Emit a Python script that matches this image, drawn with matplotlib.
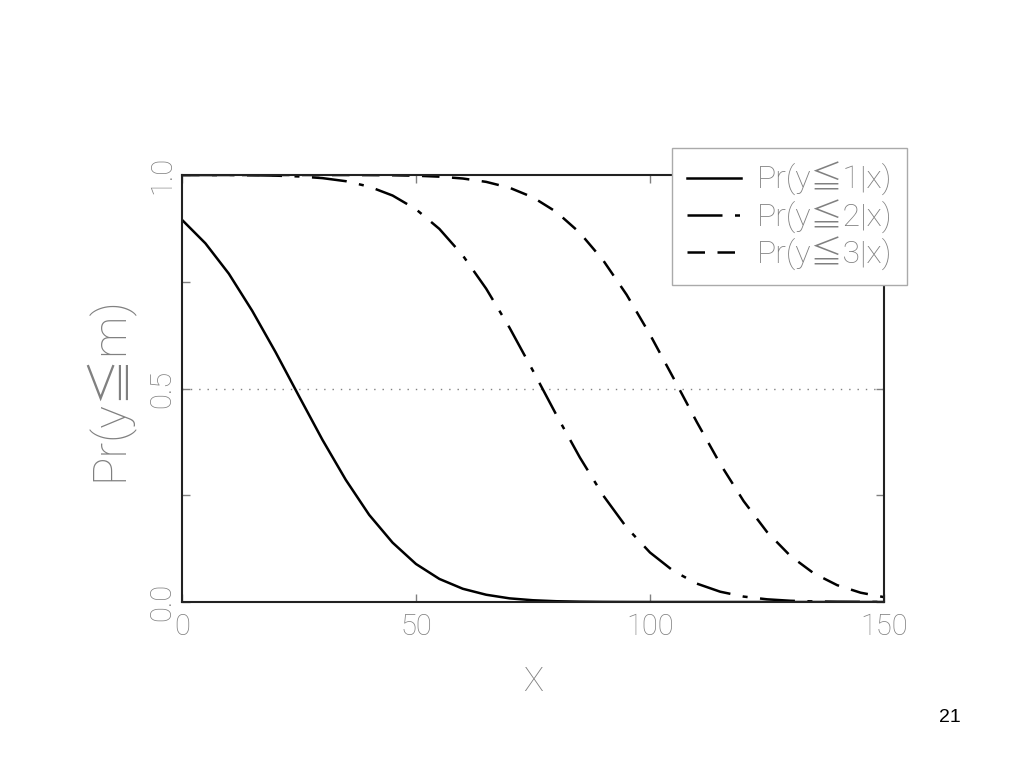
import matplotlib
matplotlib.use("Agg")
import matplotlib.pyplot as plt
from matplotlib.ticker import MultipleLocator

# ---- data ----
x_vals = [0, 5, 10, 15, 20, 25, 30, 35, 40, 45, 50, 55, 60, 65, 70, 75,
          80, 85, 90, 95, 100, 105, 110, 115, 120, 125, 130, 135, 140, 145, 150]
p_le1 = [0.895, 0.840, 0.769, 0.682, 0.585, 0.482, 0.380, 0.286, 0.204, 0.139,
         0.089, 0.054, 0.031, 0.017, 0.0085, 0.0041, 0.0018, 0.0008, 0.0003, 0.0001,
         0.0, 0.0, 0.0, 0.0, 0.0, 0.0, 0.0, 0.0, 0.0, 0.0, 0.0]
p_le2 = [1.0, 0.9999, 0.9998, 0.9994, 0.9985, 0.9966, 0.9927, 0.9855, 0.9728, 0.9519,
         0.9198, 0.8737, 0.8116, 0.7337, 0.6421, 0.5414, 0.4380, 0.3387, 0.2495, 0.1746,
         0.1159, 0.0727, 0.0431, 0.0241, 0.0127, 0.0063, 0.0029, 0.0013, 0.0005, 0.0002, 0.0001]
p_le3 = [1.0, 1.0, 1.0, 1.0, 1.0, 1.0, 0.9999, 0.9999, 0.9997, 0.9993,
         0.9983, 0.9961, 0.9918, 0.9839, 0.9701, 0.9476, 0.9134, 0.8648, 0.8001, 0.7197,
         0.6263, 0.5247, 0.4215, 0.3235, 0.2364, 0.1640, 0.1079, 0.0671, 0.0394, 0.0218, 0.0114]
series_labels = ["Pr(y≦1|x)", "Pr(y≦2|x)", "Pr(y≦3|x)"]
x_ticks = [0, 50, 100, 150]
y_ticks = [0.0, 0.5, 1.0]
y_tick_labels = ["0.0", "0.5", "1.0"]
reference_level = 0.5
page_number = "21"

FONT = ["Roboto", "Noto Sans CJK JP", "DejaVu Sans"]
GRAY = "#808080"

fig = plt.figure(figsize=(10.24, 7.68), dpi=100)
ax = fig.add_axes([182/1024, 1 - 602/768, 702/1024, 427/768])

ax.plot(x_vals, p_le1, color="black", lw=1.8, label=series_labels[0])
ax.plot(x_vals, p_le2, color="black", lw=1.8, dashes=[14, 5, 2, 5], label=series_labels[1])
ax.plot(x_vals, p_le3, color="black", lw=1.8, dashes=[7, 5], label=series_labels[2])
ax.axhline(reference_level, color=GRAY, lw=1.0, ls=(0, (1, 5)), zorder=0)

ax.set_xlim(0, 150)
ax.set_ylim(0, 1)
ax.set_xticks(x_ticks)
ax.set_xticklabels([str(t) for t in x_ticks], fontsize=21, color=GRAY,
                   family=FONT, fontweight="light")
ax.set_yticks(y_ticks)
ax.set_yticklabels(y_tick_labels, fontsize=21, color=GRAY, family=FONT,
                   fontweight="light", rotation=90, va="center")
ax.yaxis.set_minor_locator(MultipleLocator(0.25))
ax.tick_params(which="both", direction="in", top=True, right=True,
               color=GRAY, length=6, width=1)
ax.tick_params(axis="x", pad=8)
ax.tick_params(axis="y", pad=4)
for s in ax.spines.values():
    s.set_linewidth(1.5)
    s.set_color("#222222")

ax.set_xlabel("X", fontsize=24, color=GRAY, family=FONT, fontweight="light")
ax.xaxis.set_label_coords(0.5, -0.15)
ax.set_ylabel("Pr(y≦m)", fontsize=34, color=GRAY, family=FONT, fontweight="light")
ax.yaxis.set_label_coords(-0.07, 0.5)

leg = ax.legend(loc="upper right", bbox_to_anchor=(907/1024, 1 - 148/768),
                bbox_transform=fig.transFigure, borderaxespad=0,
                fancybox=False, framealpha=1, edgecolor="#aaaaaa",
                prop={"family": FONT, "size": 23, "weight": "light"},
                handlelength=1.7, handletextpad=0.5, labelspacing=0.1,
                borderpad=0.45)
leg.get_frame().set_linewidth(1.0)
for t in leg.get_texts():
    t.set_color(GRAY)

fig.text(950/1024, 1 - 718/768, page_number, fontsize=14, family="Liberation Sans",
         ha="center", va="center", color="black")

fig.savefig("out.png", dpi=100)
